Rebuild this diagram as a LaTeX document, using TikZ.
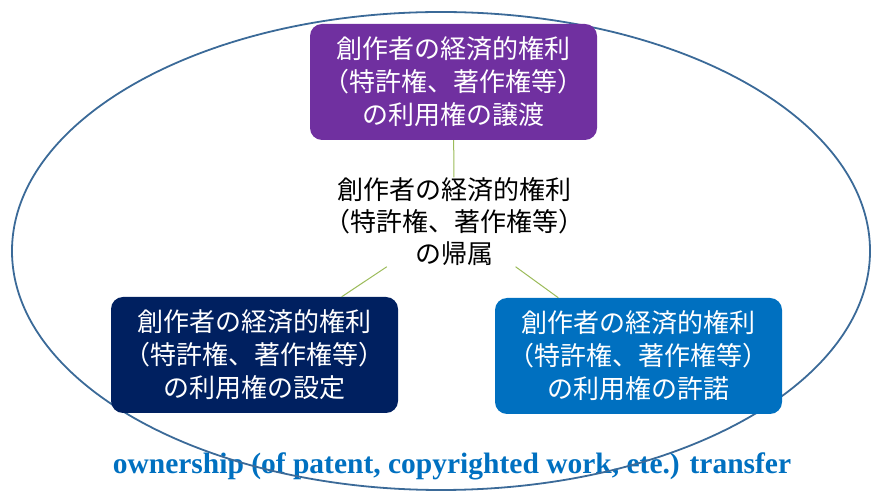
\documentclass[tikz,border=0pt]{standalone}
\usepackage{fontspec}
\setmainfont{Liberation Serif}
\newfontfamily\jpfont{Noto Sans CJK JP}

\definecolor{transferpurple}{HTML}{7030A0}
\definecolor{settingnavy}{HTML}{002060}
\definecolor{licenceblue}{HTML}{0070C0}
\definecolor{ringblue}{HTML}{3B6A98}
\definecolor{linkgreen}{HTML}{9BBB59}

\begin{document}
\begin{tikzpicture}[x=1pt,y=1pt,
	box/.style={rounded corners=12pt,minimum width=287pt,minimum height=116pt,
		align=center,text=white,font=\jpfont\fontsize{26}{33}\selectfont},
	link/.style={draw=linkgreen,line width=1pt}]
%
	\useasboundingbox (0,0) rectangle (877,492);
	\node[text=licenceblue,font=\bfseries\fontsize{29.5}{31}\selectfont] (caption) at (452,26)
		{ownership (of patent, copyrighted work, ete.) transfer};
	\draw[ringblue,line width=1.8pt] (441,241) ellipse (429pt and 239pt);
%
	\node[align=center,inner sep=0.5pt,font=\jpfont\fontsize{26}{32}\selectfont] (owner) at (454,270)
		{創作者の経済的権利\\（特許権、著作権等）\\の帰属};
	\node[box,fill=transferpurple] (transfer) at (453.5,410)
		{創作者の経済的権利\\（特許権、著作権等）\\の利用権の譲渡};
	\node[box,fill=settingnavy] (setting) at (254.5,137)
		{創作者の経済的権利\\（特許権、著作権等）\\の利用権の設定};
	\node[box,fill=licenceblue] (licence) at (638.5,136)
		{創作者の経済的権利\\（特許権、著作権等）\\の利用権の許諾};
%
	\draw[link] (transfer) -- (owner);
	\draw[link] (owner) -- (setting);
	\draw[link] (owner) -- (licence);
%
\end{tikzpicture}
\end{document}
